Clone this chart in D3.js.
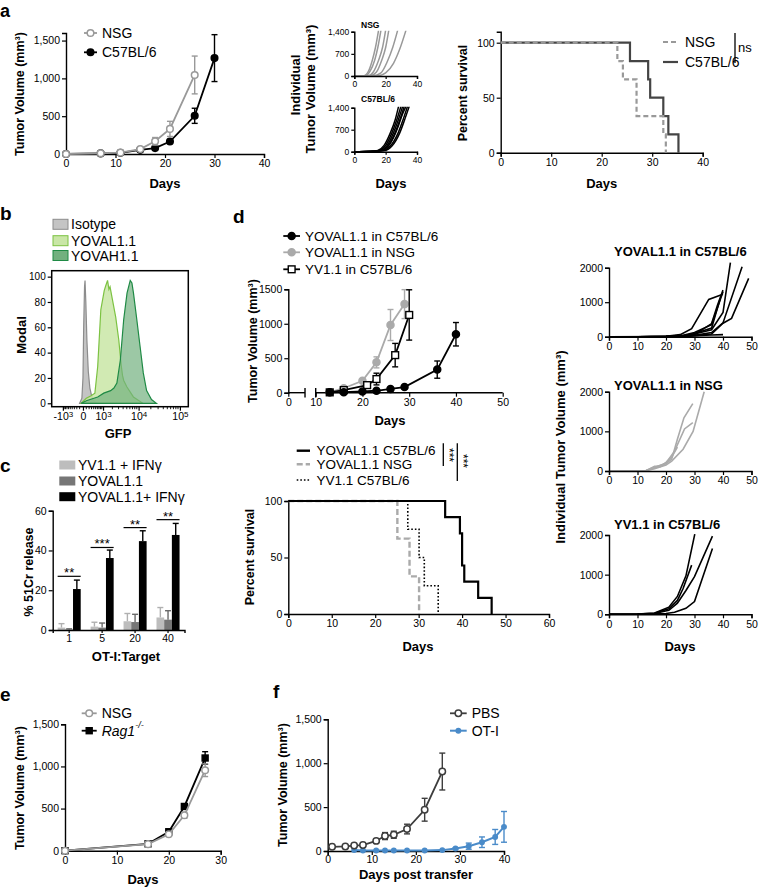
<!DOCTYPE html>
<html>
<head>
<meta charset="utf-8">
<script src="https://cdn.jsdelivr.net/npm/d3@7/dist/d3.min.js"></script>
<style>
html,body{margin:0;padding:0;background:#fff;}
svg{display:block;}
</style>
</head>
<body>
<svg id="fig" width="760" height="887"></svg>
<script>
// ================= DATA =================
// Panel a: mean tumour volume [day, mean, sem]
const aMainNSG = [[0,0,0],[7,10,0],[11,18,0],[15,65,0],[18,168,50],[21,332,100],[26,1045,250]];
const aMainC57 = [[0,0,0],[7,8,0],[11,15,0],[15,55,0],[18,78,15],[21,165,25],[26,505,100],[30,1268,310]];
const aTicksY = [0,500,1000,1500];
const aTicksX = [0,10,20,30,40];
// Panel a: individual curves [day, volume]
const aIndNSG = [
  [[0,0],[6,10],[9,150],[11.5,500],[13.5,900],[15.5,1450]],
  [[0,0],[7,10],[10,150],[13,500],[15,900],[17,1450]],
  [[0,0],[9,10],[12,120],[15.5,500],[18,900],[20,1450]],
  [[0,0],[10,10],[14,120],[17.5,500],[20,900],[22,1450]],
  [[0,0],[12,10],[17,100],[21,450],[24.5,900],[27.7,1450]],
  [[0,0],[15,10],[20,100],[25,400],[29,850],[33,1450]]
];
const aIndC57 = [
  [[0,0],[10,5],[15,40],[19,200],[23,600],[26,1000],[28.3,1450]],
  [[0,0],[10,5],[16,40],[20,200],[24,600],[27,1000],[29.8,1450]],
  [[0,0],[10,5],[16,30],[21,200],[25,600],[28,1000],[30.9,1450]],
  [[0,0],[10,5],[17,30],[22,200],[26,600],[29,1000],[31.9,1450]],
  [[0,0],[10,5],[18,30],[23,180],[28,600],[31,1000],[34,1450]],
  [[0,0],[10,5],[19,30],[24,180],[29,600],[32,1000],[35.1,1450]],
  [[0,0],[10,5],[17,40],[21,150],[25,450],[28,800],[30,1100],[33,1450]]
];
const aIndTicksY = [0,700,1400];
const aIndTicksX = [0,20,40];
// Panel a: survival [day, percent]
const aSurvNSG = [[0,100],[23.1,83.3],[24.2,66.7],[26.9,33.3],[32.2,16.7],[32.7,0]];
const aSurvC57 = [[0,100],[25.6,83.3],[29.2,66.7],[29.6,50],[32.2,33.3],[33.2,16.7],[35.2,0]];
const aSurvTicksY = [0,50,100];

// Panel b: histograms [GFP, % of max]
const bIsotype = [[-100,0],[-30,4],[0,20],[20,60],[45,92],[60,97],[85,80],[120,50],[170,25],[230,12],[300,6],[400,2],[550,0]];
const bYOVAL = [[-50,0],[100,4],[280,6],[460,8],[620,29],[830,74],[1100,89],[1245,93],[1420,97],[1570,90],[1700,92],[2000,82],[2500,68],[3050,50],[3550,30],[3850,22],[4150,18],[5000,13],[7400,5],[12800,0]];
const bYOVAH = [[-50,0],[100,2],[620,5],[1060,8],[1776,10],[2220,12],[2700,16],[3360,34],[4140,66],[5070,87],[6140,97],[6780,95],[7430,87],[9020,66],[10860,45],[13060,24],[15740,10],[20750,3],[27270,0]];
const bTicksY = [0,20,40,60,80,100];
const bTicksX = [-1000,0,1000,10000,100000];
const bTickLabels = [["-10","3"],["0",""],["10","3"],["10","4"],["10","5"]];
const bLegend = ["Isotype","YOVAL1.1","YOVAH1.1"];

// Panel c: 51Cr release
const cRatios = ["1","5","20","40"];
const cGroups = ["YV1.1 + IFNγ","YOVAL1.1","YOVAL1.1+ IFNγ"];
const cMeans = [[1.2,0.3,20.6],[1.7,1.2,36.2],[4.4,4.0,44.7],[6.3,5.2,47.8]];
const cErrs  = [[2.0,0.3,4.5],[2.2,2.3,4.0],[3.9,3.9,5.2],[5.0,4.5,5.8]];
const cSigY = [27,41.5,51.5,55.5];
const cSig = ["**","***","**","**"];
const cTicksY = [0,20,40,60];

// Panel d: mean tumour volume [day, mean, sem]
const dC57 = [[13,5,0],[16,8,0],[20,18,0],[23,28,0],[26,55,15],[29,82,15],[36,335,125],[40,848,170]];
const dNSG = [[13,5,0],[16,65,0],[20,172,20],[23,440,80],[26,982,225],[29,1285,210]];
const dYV  = [[13,5,0],[16,38,0],[21,110,20],[23,198,85],[27,545,170],[30,1128,365]];
const dTicksY = [0,500,1000,1500];
const dTicksX = [0,10,20,30,40,50];
const dBreak = [6.1,10];
// Panel d: survival
const dSurvC57 = [[0,100],[36.1,85.7],[39.5,71.4],[40,42.9],[40.5,28.6],[43.7,14.3],[46.8,0]];
const dSurvNSG = [[0,100],[25.1,66.7],[27.9,33.3],[30.1,0]];
const dSurvYV  = [[0,100],[27.5,75],[30.1,50],[31.3,25],[34.5,0]];
const dSurvTicksX = [0,10,20,30,40,50,60];
// Panel d: individual curves
const dIndC57 = [
  [[0,0],[10,0],[20,15],[25,60],[29,230],[35,1080],[39,1200],[40,1230]],
  [[0,0],[10,0],[20,10],[26,40],[30,120],[36,350],[40,1300]],
  [[0,0],[10,0],[20,5],[26,30],[30,90],[36,250],[39,1100]],
  [[0,0],[10,0],[20,5],[26,20],[30,60],[36,380],[38,900],[40,1350]],
  [[0,0],[10,0],[20,5],[26,20],[30,80],[36,200],[40,700],[42.6,2150]],
  [[0,0],[10,0],[20,5],[26,10],[30,40],[36,120],[40,400],[46.7,2030]],
  [[0,0],[10,0],[20,5],[26,10],[30,30],[36,80],[40,390],[43,530],[49,1690]],
  [[0,0],[20,5],[26,10],[30,30],[36,50],[40,60]]
];
const dIndNSG = [
  [[0,0],[10,0],[13,10],[16,100],[20,180],[22,300],[24,800],[26.3,1340],[29.4,1700]],
  [[0,0],[10,0],[13,5],[16,60],[20,150],[22,250],[26,550],[29.5,1000],[33.4,2000]],
  [[0,0],[10,0],[13,5],[16,80],[20,200],[23,500],[26.5,1060],[29.4,1220]],
  [[0,0],[10,0],[13,5],[16,120],[18,110],[20,220],[22,350],[24,600]]
];
const dIndYV = [
  [[0,0],[10,5],[16,30],[21,180],[24,450],[27,970],[30.1,2020]],
  [[0,0],[10,5],[16,25],[21,140],[24,350],[26,650],[29,1240]],
  [[0,0],[10,5],[16,20],[21,100],[24,280],[27,600],[30,950],[36.3,1970]],
  [[0,0],[10,0],[16,10],[20,20],[23,50],[27,150],[30,320],[36.3,1660]]
];
const dIndTicksY = [0,1000,2000];

// Panel e
const eNSG = [[0,0,0],[16,78,8],[20,195,20],[23,420,35],[27,955,75]];
const eRag = [[0,0,0],[16,82,8],[20,225,15],[23,525,30],[27,1100,75]];
const eTicksX = [0,10,20,30];
// Panel f
const fPBS = [[1,48,8],[4,52,0],[6,62,8],[8,68,8],[11,115,15],[13,170,40],[15,185,40],[18,250,55],[22,470,130],[26,905,210]];
const fOT  = [[6,10,0],[8,5,0],[11,5,0],[13,5,0],[15,5,0],[18,5,0],[22,5,0],[26,10,0],[29,28,10],[32,55,35],[35,100,60],[38,160,85],[40,275,175]];
const fTicksX = [0,10,20,30,40];

// ================= HELPERS =================
const FONT = "'Liberation Sans', Arial, Helvetica, sans-serif";
const svg = d3.select('#fig').attr('font-family', FONT);
const fmtComma = d3.format(',');
const fmtPlain = d3.format('d');

function styleAxis(g, fs){
  g.attr('font-family', FONT).attr('font-size', fs);
  g.select('.domain').attr('stroke','#000').attr('stroke-width',1.4);
  g.selectAll('.tick line').attr('stroke','#000').attr('stroke-width',1.2);
  g.selectAll('.tick text').attr('fill','#000');
  return g;
}
function axisL(scale, x0, ticks, fmt, fs, size){
  return styleAxis(svg.append('g').attr('transform',`translate(${x0},0)`)
    .call(d3.axisLeft(scale).tickValues(ticks).tickFormat(fmt).tickSizeOuter(0).tickSize(size||4).tickPadding(2)), fs||10);
}
function axisB(scale, y0, ticks, fmt, fs, size, pad){
  return styleAxis(svg.append('g').attr('transform',`translate(0,${y0})`)
    .call(d3.axisBottom(scale).tickValues(ticks).tickFormat(fmt).tickSizeOuter(0).tickSize(size||4).tickPadding(pad==null?2:pad)), fs||10);
}
function text(x,y,s,o){ o=o||{}; return svg.append('text').attr('x',x).attr('y',y)
  .attr('font-size',o.fs||12).attr('font-weight',o.bold?'bold':'normal')
  .attr('text-anchor',o.anchor||'start').attr('dominant-baseline',o.db||'auto')
  .attr('fill',o.fill||'#000').attr('font-style',o.italic?'italic':'normal').text(s); }
function vtext(x,y,s,o){ o=o||{}; return svg.append('text').attr('transform',`translate(${x},${y}) rotate(${o.rot||-90})`)
  .attr('font-size',o.fs||12.5).attr('font-weight',o.bold===false?'normal':'bold')
  .attr('text-anchor','middle').attr('dominant-baseline','central').attr('fill','#000').text(s); }
function marker(g, cx, cy, type, color, r){
  if(type==='circleOpen'||type==='circleFilled'){
    g.append('circle').attr('cx',cx).attr('cy',cy).attr('r',r)
      .attr('fill', type==='circleOpen'?'#fff':color).attr('stroke',color).attr('stroke-width',1.5);
  } else {
    g.append('rect').attr('x',cx-r).attr('y',cy-r).attr('width',2*r).attr('height',2*r)
      .attr('fill', type==='squareOpen'?'#fff':color).attr('stroke',color).attr('stroke-width',1.4);
  }
}
function growth(x, y, data, o){
  const g = svg.append('g');
  const cap = o.cap||3;
  data.forEach(d=>{ if(d[2]>0){ const cx=x(d[0]);
    const y1=y(Math.max(0,d[1]-d[2])), y2=y(d[1]+d[2]);
    g.append('line').attr('x1',cx).attr('x2',cx).attr('y1',y1).attr('y2',y2).attr('stroke',o.color).attr('stroke-width',1.4);
    [y1,y2].forEach(yy=> g.append('line').attr('x1',cx-cap).attr('x2',cx+cap).attr('y1',yy).attr('y2',yy).attr('stroke',o.color).attr('stroke-width',1.4));
  }});
  g.append('path').datum(data).attr('d', d3.line().x(d=>x(d[0])).y(d=>y(d[1]))).attr('fill','none').attr('stroke',o.color).attr('stroke-width',o.w||1.8);
  data.forEach(d=> marker(g, x(d[0]), y(d[1]), o.marker, o.color, o.r||3.3));
}
function surv(x,y,data,o){
  svg.append('path').datum(data).attr('d', d3.line().x(d=>x(d[0])).y(d=>y(d[1])).curve(d3.curveStepAfter))
    .attr('fill','none').attr('stroke',o.color).attr('stroke-width',o.w||2).attr('stroke-dasharray',o.dash||null);
}
function legendRow(x1,x2,y,label,o){
  svg.append('line').attr('x1',x1).attr('x2',x2).attr('y1',y).attr('y2',y).attr('stroke',o.color)
    .attr('stroke-width',o.w||1.8).attr('stroke-dasharray',o.dash||null);
  if(o.marker) marker(svg,(x1+x2)/2,y,o.marker,o.color,o.r||3.3);
  return text(x2+(o.gap||5), y, label, {fs:o.fs||14, db:'central'});
}
let clipId = 0;
function indiv(x,y,curves,color,curve){
  const id='clip'+(clipId++);
  const [x0,x1]=x.range(), [yb,yt]=y.range();
  svg.append('clipPath').attr('id',id).append('rect').attr('x',x0).attr('y',yt-1).attr('width',x1-x0+2).attr('height',yb-yt+1);
  const g=svg.append('g').attr('clip-path',`url(#${id})`);
  g.selectAll('path').data(curves).join('path')
    .attr('d', d3.line().x(d=>x(d[0])).y(d=>y(d[1])).curve(curve||d3.curveLinear))
    .attr('fill','none').attr('stroke',color).attr('stroke-width',1.5);
}
function letter(x,y,s,fs){ text(x,y,s,{fs:fs||19,bold:true}); }

// ================= PANEL a =================
letter(0,16.5,'a',18);
{
  const x=d3.scaleLinear([0,40],[66,264]);
  const y=d3.scaleLinear([0,1600],[154,33]);
  axisL(y,66,aTicksY,fmtComma,10.5);
  axisB(x,154,aTicksX,fmtPlain,10.5);
  growth(x,y,aMainC57,{color:'#000',marker:'circleFilled'});
  growth(x,y,aMainNSG,{color:'#999',marker:'circleOpen'});
  vtext(20,94,'Tumor Volume (mm³)');
  text(165,188,'Days',{bold:true,fs:13,anchor:'middle'});
  legendRow(84,97,33,'NSG',{color:'#999',marker:'circleOpen'});
  legendRow(84,97,52.3,'C57BL/6',{color:'#000',marker:'circleFilled'});
}
{
  const x=d3.scaleLinear([0,40],[354.3,417]);
  const yT=d3.scaleLinear([0,1400],[76,31.7]);
  const yB=d3.scaleLinear([0,1400],[151.7,107.7]);
  indiv(x,yT,aIndNSG,'#999',d3.curveMonotoneX);
  indiv(x,yB,aIndC57,'#000',d3.curveMonotoneX);
  axisL(yT,354.3,aIndTicksY,fmtComma,8.5,3);
  axisB(x,76,aIndTicksX,fmtPlain,8.5,3);
  axisL(yB,354.3,aIndTicksY,fmtComma,8.5,3);
  axisB(x,151.7,aIndTicksX,fmtPlain,8.5,3);
  text(361,28,'NSG',{bold:true,fs:8.5});
  text(361,101.5,'C57BL/6',{bold:true,fs:8.5});
  vtext(295,85,'Individual',{fs:13});
  vtext(310,89,'Tumor Volume (mm³)',{fs:13});
  text(391,188,'Days',{bold:true,fs:13,anchor:'middle'});
}
{
  const x=d3.scaleLinear([0,40],[500.7,702.7]);
  const y=d3.scaleLinear([0,110],[152.7,31.7]);
  axisL(y,500.7,aSurvTicksY,fmtPlain,10.5);
  axisB(x,152.7,aTicksX,fmtPlain,10.5);
  surv(x,y,aSurvC57,{color:'#444',w:2.2});
  surv(x,y,aSurvNSG,{color:'#999',w:2.2,dash:'5,3'});
  vtext(463,93,'Percent survival');
  text(601.7,188,'Days',{bold:true,fs:13,anchor:'middle'});
  legendRow(663,678,42,'NSG',{color:'#999',w:2.2,dash:'5,3',gap:7});
  legendRow(663,678,62,'C57BL/6',{color:'#444',w:2.2,gap:7});
  svg.append('line').attr('x1',735).attr('x2',735).attr('y1',33).attr('y2',63).attr('stroke','#000').attr('stroke-width',1.3);
  text(738,52,'ns',{fs:13});
}

// ================= PANEL b =================
letter(0,220,'b');
{
  const x=d3.scaleSymlog().constant(500).domain([-2265,158600]).range([51.7,188.3]);
  const y=d3.scaleLinear([-2.7,104.7],[406.7,270.7]);
  svg.append('clipPath').attr('id','clipB').append('rect').attr('x',51.7).attr('y',270.7).attr('width',136.6).attr('height',136);
  const g=svg.append('g').attr('clip-path','url(#clipB)');
  const area=d3.area().x(d=>x(d[0])).y0(y(0)).y1(d=>y(d[1]));
  const hs=[[bIsotype,'#c4c4c4','#8c8c8c',1],[bYOVAL,'#c9e6a6','#7cc242',0.85],[bYOVAH,'#72b07f','#1f8a45',0.7]];
  hs.forEach(h=> g.append('path').datum(h[0]).attr('d',area).attr('fill',h[1]).attr('fill-opacity',h[3]).attr('stroke',h[2]).attr('stroke-width',1.2));
  svg.append('rect').attr('x',51.7).attr('y',270.7).attr('width',136.6).attr('height',136).attr('fill','none').attr('stroke','#000').attr('stroke-width',1.5);
  const ay=axisL(y,51.7,bTicksY,fmtPlain,10,4); ay.select('.domain').remove();
  const ax=axisB(x,406.7,bTicksX,fmtPlain,10.5,4); ax.select('.domain').remove();
  ax.selectAll('.tick text').each(function(d,i){
    const t=d3.select(this); t.text(null);
    t.append('tspan').text(bTickLabels[i][0]);
    if(bTickLabels[i][1]) t.append('tspan').attr('dy','-0.45em').attr('font-size',8).text(bTickLabels[i][1]);
  });
  const minor=[].concat(d3.range(-900,0,100),d3.range(100,1000,100),d3.range(2000,10000,1000),d3.range(20000,100000,10000));
  svg.append('g').selectAll('line').data(minor).join('line')
    .attr('x1',d=>x(d)).attr('x2',d=>x(d)).attr('y1',406.7).attr('y2',409.2).attr('stroke','#000').attr('stroke-width',0.9);
  const sw=[['#c4c4c4','#8c8c8c'],['#c9e6a6','#7cc242'],['#72b07f','#1f8a45']];
  const rows=[224.3,240.7,255.5];
  bLegend.forEach((s,i)=>{
    svg.append('rect').attr('x',53).attr('y',rows[i]-5).attr('width',15).attr('height',10).attr('fill',sw[i][0]).attr('stroke',sw[i][1]).attr('stroke-width',1);
    text(71,rows[i],s,{fs:14,db:'central'});
  });
  vtext(21.7,335,'Modal',{fs:13});
  text(118,438,'GFP',{bold:true,fs:13,anchor:'middle'});
}

// ================= PANEL c =================
letter(0,472,'c');
{
  const x=d3.scaleBand().domain(cRatios).range([52.7,184.5]).paddingInner(0.3).paddingOuter(0.15);
  const xi=d3.scaleBand().domain([0,1,2]).range([0,x.bandwidth()]);
  const y=d3.scaleLinear([0,60],[630,510.7]);
  const cols=['#bdbdbd','#767676','#000'];
  const errCols=['#b0b0b0','#6a6a6a','#000'];
  cRatios.forEach((r,i)=>{
    cMeans[i].forEach((m,j)=>{
      const bx=x(r)+xi(j), bw=xi.bandwidth();
      svg.append('line').attr('x1',bx+bw/2).attr('x2',bx+bw/2).attr('y1',y(m)).attr('y2',y(m+cErrs[i][j])).attr('stroke',errCols[j]).attr('stroke-width',1.4);
      svg.append('line').attr('x1',bx+bw/2-3).attr('x2',bx+bw/2+3).attr('y1',y(m+cErrs[i][j])).attr('y2',y(m+cErrs[i][j])).attr('stroke',errCols[j]).attr('stroke-width',1.4);
      svg.append('rect').attr('x',bx).attr('y',y(m)).attr('width',bw).attr('height',y(0)-y(m)).attr('fill',cols[j]);
    });
    svg.append('line').attr('x1',x(r)).attr('x2',x(r)+x.bandwidth()).attr('y1',y(cSigY[i])).attr('y2',y(cSigY[i])).attr('stroke','#000').attr('stroke-width',1.2);
    text(x(r)+x.bandwidth()/2,y(cSigY[i])+1,cSig[i],{fs:13,anchor:'middle'});
  });
  axisL(y,52.7,cTicksY,fmtPlain,10.5);
  axisB(x,630,cRatios,null,10.5,3);
  const rows=[465,481,496.7];
  cGroups.forEach((s,i)=>{
    svg.append('rect').attr('x',59.3).attr('y',rows[i]-4.5).attr('width',16).attr('height',9).attr('fill',cols[i]);
    text(78,rows[i],s,{fs:14,db:'central'});
  });
  vtext(29,572,'% 51Cr release',{fs:12.5});
  text(126,661,'OT-I:Target',{bold:true,fs:13,anchor:'middle'});
}

// ================= PANEL d =================
letter(233,223,'d');
{
  const x=d3.scaleLinear().domain([0,10,50]).range([288.3,315.7,502.7]);
  const y=d3.scaleLinear([0,1500],[392.7,289.3]);
  axisL(y,288.3,dTicksY,fmtPlain,10.5);
  const ax=axisB(x,392.7,dTicksX,fmtPlain,10.5); ax.select('.domain').remove();
  const segs=[[0,dBreak[0]],[dBreak[1],50]];
  segs.forEach(s=> svg.append('line').attr('x1',x(s[0])).attr('x2',x(s[1])).attr('y1',392.7).attr('y2',392.7).attr('stroke','#000').attr('stroke-width',1.4));
  dBreak.forEach(b=> svg.append('line').attr('x1',x(b)).attr('x2',x(b)).attr('y1',388).attr('y2',397.5).attr('stroke','#000').attr('stroke-width',1.4));
  growth(x,y,dNSG,{color:'#aaa',marker:'circleFilled',r:3.5});
  growth(x,y,dYV,{color:'#000',marker:'squareOpen',r:3.4});
  growth(x,y,dC57,{color:'#000',marker:'circleFilled',r:3.5});
  vtext(253.3,341,'Tumor Volume (mm³)');
  text(390,425,'Days',{bold:true,fs:13,anchor:'middle'});
  legendRow(283.3,300,236,'YOVAL1.1 in C57BL/6',{color:'#000',marker:'circleFilled',fs:13.5,r:3.5});
  legendRow(283.3,300,252.3,'YOVAL1.1 in NSG',{color:'#aaa',marker:'circleFilled',fs:13.5,r:3.5});
  legendRow(283.3,300,269.3,'YV1.1 in C57BL/6',{color:'#000',marker:'squareOpen',fs:13.5,r:3.4});
}
{
  const x=d3.scaleLinear([0,60],[288.3,549]);
  const y=d3.scaleLinear([0,100],[614,501]);
  axisL(y,288.3,aSurvTicksY,fmtPlain,10.5);
  axisB(x,614,dSurvTicksX,fmtPlain,10.5);
  surv(x,y,dSurvNSG,{color:'#aaa',w:2.4,dash:'6,3'});
  surv(x,y,dSurvYV,{color:'#000',w:1.6,dash:'1.6,2'});
  surv(x,y,dSurvC57,{color:'#000',w:2.2});
  vtext(250,557,'Percent survival');
  text(418,651,'Days',{bold:true,fs:13,anchor:'middle'});
  legendRow(296.7,310,450.7,'YOVAL1.1 C57BL/6',{color:'#000',w:2.4,fs:13.5,gap:6.5});
  legendRow(296.7,310,464.3,'YOVAL1.1 NSG',{color:'#aaa',w:2.4,dash:'6,3',fs:13.5,gap:6.5});
  legendRow(296.7,310,480,'YV1.1 C57BL/6',{color:'#000',w:1.6,dash:'1.6,2',fs:13.5,gap:6.5});
  svg.append('line').attr('x1',443.3).attr('x2',443.3).attr('y1',443.3).attr('y2',466).attr('stroke','#000').attr('stroke-width',1.3);
  svg.append('line').attr('x1',457.3).attr('x2',457.3).attr('y1',443.3).attr('y2',481).attr('stroke','#000').attr('stroke-width',1.3);
  vtext(448.5,455,'***',{rot:90,fs:12,bold:false});
  vtext(462.5,461,'***',{rot:90,fs:12,bold:false});
}
{
  const x=d3.scaleLinear([0,50],[609,751.5]);
  const yT=d3.scaleLinear([0,2000],[336.7,267.7]);
  const yM=d3.scaleLinear([0,2000],[471,391.7]);
  const yB=d3.scaleLinear([0,2000],[614.3,535]);
  [[yT,dIndC57,'#000',336.7,'YOVAL1.1 in C57BL/6',256.3],[yM,dIndNSG,'#aaa',471,'YOVAL1.1 in NSG',389.6],[yB,dIndYV,'#000',614.3,'YV1.1 in C57BL/6',529]].forEach(p=>{
    const id='clipD'+(clipId++);
    svg.append('clipPath').attr('id',id).append('rect').attr('x',609).attr('y',p[3]-90).attr('width',145).attr('height',91);
    svg.append('g').attr('clip-path',`url(#${id})`).selectAll('path').data(p[1]).join('path')
      .attr('d', d3.line().x(d=>x(d[0])).y(d=>p[0](d[1])))
      .attr('fill','none').attr('stroke',p[2]).attr('stroke-width',1.6);
    axisL(p[0],609,dIndTicksY,fmtPlain,10.5);
    axisB(x,p[3],dTicksX,fmtPlain,10.5);
    text(614,p[5],p[4],{bold:true,fs:13});
  });
  vtext(560,447,'Individual Tumor Volume (mm³)',{fs:13});
  text(680,651,'Days',{bold:true,fs:13,anchor:'middle'});
}

// ================= PANEL e =================
letter(0,701,'e');
{
  const x=d3.scaleLinear([0,30],[65,220.7]);
  const y=d3.scaleLinear([0,1500],[850.7,724.3]);
  axisL(y,65,aTicksY,fmtComma,10.5);
  axisB(x,850.7,eTicksX,fmtPlain,10.5);
  growth(x,y,eRag,{color:'#000',marker:'squareFilled',r:3});
  growth(x,y,eNSG,{color:'#999',marker:'circleOpen',r:3.3});
  vtext(20,788,'Tumor Volume (mm³)');
  text(143,884,'Days',{bold:true,fs:13,anchor:'middle'});
  legendRow(81.7,96.7,713.3,'NSG',{color:'#999',marker:'circleOpen'});
  const t=legendRow(81.7,96.7,730.7,'',{color:'#000',marker:'squareFilled',r:3});
  t.append('tspan').attr('font-style','italic').text('Rag1');
  t.append('tspan').attr('font-style','italic').attr('font-size',9).attr('dy','-0.6em').text('-/-');
}

// ================= PANEL f =================
letter(273,698,'f');
{
  const x=d3.scaleLinear([0,40],[327.7,504]);
  const y=d3.scaleLinear([0,1500],[851,719.3]);
  axisL(y,327.7,aTicksY,fmtComma,10.5);
  axisB(x,851,fTicksX,fmtPlain,10.5,4,1);
  growth(x,y,fOT,{color:'#4a8bc9',marker:'circleFilled',r:2.2,w:2});
  growth(x,y,fPBS,{color:'#3d3d3d',marker:'circleOpen',r:3.2});
  vtext(283.3,785,'Tumor Volume (mm³)');
  text(416,879,'Days post transfer',{bold:true,fs:13,anchor:'middle'});
  legendRow(450,466.7,713.3,'PBS',{color:'#3d3d3d',marker:'circleOpen',r:3.2});
  legendRow(450,466.7,730.7,'OT-I',{color:'#4a8bc9',marker:'circleFilled',r:2.2,w:2});
}
</script>
</body>
</html>
